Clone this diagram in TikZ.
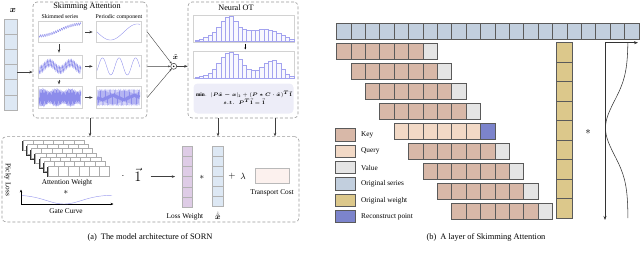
\documentclass[tikz,border=0pt]{standalone}
\usepackage{amsmath,amssymb,bm}
\usepackage{fontspec}
\setmainfont{Liberation Serif}
\usetikzlibrary{arrows.meta,calc}
\definecolor{keyc}{HTML}{D8B8A8}
\definecolor{queryc}{HTML}{F2D9C6}
\definecolor{valc}{HTML}{E5E5E5}
\definecolor{serc}{HTML}{C2CFDE}
\definecolor{wtc}{HTML}{DCC88B}
\definecolor{recc}{HTML}{7C84CC}
\definecolor{xblue}{HTML}{DDE8F4}
\definecolor{lossc}{HTML}{DECCE6}
\definecolor{wave}{HTML}{8C8CEB}
\definecolor{otfill}{HTML}{EDEDF8}
\definecolor{tcost}{HTML}{FCF1EE}
\definecolor{dashc}{HTML}{9A9A9A}
\definecolor{celld}{HTML}{5A5A5A}
\newcommand{\fsT}{\fontsize{8.2}{9}\selectfont}
\newcommand{\fsS}{\fontsize{5.8}{6.5}\selectfont}
\newcommand{\fsL}{\fontsize{7.3}{8}\selectfont}
\newcommand{\fsC}{\fontsize{8.4}{9}\selectfont}
\newcommand{\fsF}{\fontsize{5.3}{6}\selectfont}
\newcommand{\otA}{$\mathbf{min.}\;\,\vert \boldsymbol{P\tilde{x}-x}\vert_{\mathbf{2}}+(\boldsymbol{P*C\cdot\tilde{x}})^{\boldsymbol{T}}\vec{\mathbf{1}}$}
\newcommand{\otB}{$\boldsymbol{s.t.}\;\;\boldsymbol{P}^{\boldsymbol{T}}\vec{\mathbf{1}}=\vec{\mathbf{1}}$}
\begin{document}
\begin{tikzpicture}[x=1pt,y=-1pt,
  dashbox/.style={draw=dashc, dashed, dash pattern=on 3pt off 2pt, rounded corners=4pt, line width=0.6pt},
  rcell/.style={draw=celld, line width=0.7pt, minimum width=14.4pt, minimum height=15.6pt, inner sep=0pt, outer sep=0pt},
  legsw/.style={draw=celld, line width=1pt, minimum width=20pt, minimum height=12.5pt, inner sep=0pt},
  lcell/.style={draw=gray!60, line width=0.4pt, inner sep=0pt, outer sep=0pt},
  plotbox/.style={draw=gray!35, line width=0.5pt, inner sep=0pt},
  arr/.style={-{Stealth[length=3.5pt,width=2.6pt]}, line width=0.5pt, draw=black!75},
  txt/.style={inner sep=0pt, font=\fsL},
  wv/.style={draw=wave, line width=0.35pt},
  bar/.style={draw=wave!80, fill=wave!6, line width=0.45pt}]
\useasboundingbox (0,0) rectangle (640,255);

% ---------------- (a) left part ----------------
\node[inner sep=0pt, font=\fontsize{9}{10}\selectfont] (xlab) at (13,10) {$\boldsymbol{x}$};
\foreach \i in {1,...,6}
  \node[lcell, fill=xblue, minimum width=13pt, minimum height=15.17pt, anchor=north west] (xc\i) at (4,{19+15.17*(\i-1)}) {};

% Skimming attention box
\node[dashbox, minimum width=114pt, minimum height=116pt] (SA) at (90,60) {};
\node[inner sep=0pt, font=\fsT] (SAt) at (87,7) {Skimming Attention};
\node[inner sep=0pt, font=\fsS] (sk1) at (60,17) {Skimmed series};
\node[inner sep=0pt, font=\fsS] (sk2) at (119,17) {Periodic component};
\draw[arr] (xc4.east) -- (SA.west |- xc4.east);

\node[plotbox, minimum width=44pt, minimum height=20.6pt] (pl1) at (60,32) {};
\node[plotbox, minimum width=44pt, minimum height=22.7pt] (pl2) at (60,66.4) {};
\node[plotbox, minimum width=44pt, minimum height=21.6pt] (pl3) at (60,97.5) {};
\node[plotbox, minimum width=45pt, minimum height=20.6pt] (pr1) at (118.5,32) {};
\node[plotbox, minimum width=45pt, minimum height=22.7pt] (pr2) at (118.5,66.4) {};
\node[plotbox, minimum width=45pt, minimum height=21.6pt] (pr3) at (118.5,97.5) {};
\foreach \r in {1,2,3} \draw[arr, shorten <=3pt, shorten >=3pt] (pl\r.east) -- (pr\r.west);
\draw[arr, shorten <=1.5pt, shorten >=2pt] ([xshift=-1pt]pl1.south) -- ([xshift=-1pt]pl2.north);
\draw[arr, shorten <=1.5pt, shorten >=2pt] ([xshift=-1pt]pl2.south) -- ([xshift=-1pt]pl3.north);

% waves
\draw[wv] plot[domain=0:1, samples=320, variable=\t] ({39+42*\t},{30+6*cos(180*\t)+1.3*sin(360*22*\t)});
\draw[wv] plot[domain=0:1, samples=80, variable=\t] ({97+43*\t},{32+8*sin(288*\t)});
\draw[wv] plot[domain=0:1, samples=520, variable=\t] ({39+42*\t},{66.4+3.5*sin(360*2*\t+90)+4*sin(360*28*\t)});
\draw[wv] plot[domain=0:1, samples=120, variable=\t] ({97+43*\t},{66.4-8.5*sin(936*\t-30)});
\draw[wv] plot[domain=0:1, samples=700, variable=\t] ({39+42*\t},{97.5+(7+1.5*sin(360*3*\t))*sin(360*45*\t)});
\draw[wv] plot[domain=0:1, samples=560, variable=\t] ({97+43*\t},{97.5+7.5*sin(360*34*\t)});

% combination
\node[circle, draw=black!80, line width=0.5pt, minimum size=6pt, inner sep=0pt] (odot) at (173.7,66.3) {};
\fill (odot.center) circle (0.8pt);
\node[inner sep=0pt, font=\fontsize{7}{8}\selectfont] (xt) at (175.5,57.5) {$\tilde{\boldsymbol{x}}$};
\foreach \r in {1,2,3} \draw[-{Stealth[length=2.5pt,width=2pt]}, line width=0.4pt, black!75] (pr\r -| SA.east) -- (odot);

% Neural OT box
\node[dashbox, minimum width=110pt, minimum height=116pt] (NOT) at (243,60) {};
\draw[arr] (odot.east) -- (NOT.west |- odot.east);
\node[inner sep=0pt, font=\fsT] (NOTt) at (236,8) {Neural OT};
\node[plotbox, minimum width=101pt, minimum height=26.7pt, anchor=north west] (hb1) at (193,15) {};
\node[plotbox, minimum width=101pt, minimum height=27.3pt, anchor=north west] (hb2) at (193,51) {};
\foreach \h [count=\i from 0] in {1,2,4,6,9,14,20,24,25,20,14,12,11,11,11,12,12,11,10,8,6,4,2}
  \draw[bar] ({195+4.3*\i},41.7) rectangle ++(4.3,-\h);
\foreach \h [count=\i from 0] in {1,2,3,5,9,15,21,25,26,24,19,13,9,8,8,11,15,17,18,15,9,4,2}
  \draw[bar] ({195+4.3*\i},78.3) rectangle ++(4.3,-\h);
\draw[-{Stealth[length=2pt,width=1.8pt]}, line width=0.4pt] ([xshift=1.5pt,yshift=-1.5pt]hb1.south) -- ([xshift=1.5pt,yshift=1.5pt]hb2.north);
\node[fill=otfill, rounded corners=4pt, minimum width=100pt, minimum height=30pt, inner sep=0pt, anchor=north west] (otbox) at (193.3,83.3) {};
\node[inner sep=0pt, font=\fsF] (otl1) at (244,94.3) {\otA};
\node[inner sep=0pt, font=\fsF] (otl2) at (244,101.5) {\otB};

% bottom box
\node[dashbox, minimum width=297pt, minimum height=85.3pt] (BOT) at (150.5,179.3) {};
\draw[arr] (SA.south) -- (SA.south |- BOT.north);
\draw[arr] ([xshift=-25pt]NOT.south) -- ([xshift=-25pt]NOT.south |- BOT.north);
\draw[arr] ([xshift=32pt]NOT.south) -- ([xshift=32pt]NOT.south |- BOT.north);

\node[inner sep=0pt, font=\fsL, rotate=-90] (picky) at (7.5,180) {Picky Loss};

% attention weight stack
\foreach \l in {0,...,6}{
  \pgfmathsetmacro\ax{23+4.2*\l}
  \pgfmathsetmacro\ay{140+4.33*\l}
  \fill[black!80] ({\ax-1.3},{\ay+1.3}) rectangle ({\ax+61-1.3},{\ay+10+1.3});
  \filldraw[fill=white, draw=gray!65, line width=0.4pt] (\ax,\ay) rectangle ({\ax+61},{\ay+10});
  \foreach \c in {1,...,5} \draw[gray!65, line width=0.4pt] ({\ax+61*\c/6},\ay) -- ({\ax+61*\c/6},{\ay+10});
}
\node[txt] (awl) at (67,182.5) {Attention Weight};
\node[inner sep=0pt, font=\fontsize{9}{9}\selectfont] (st1) at (66,192) {$*$};
\coordinate (go) at (21,204);
\coordinate (gx) at (113.5,204);
\coordinate (gy) at (21,189.5);
\draw[-{Stealth[length=3pt,width=2.4pt]}, line width=0.5pt] (go) -- (gx);
\draw[-{Stealth[length=3pt,width=2.4pt]}, line width=0.5pt] (go) -- (gy);
\draw[draw=wave!85, line width=0.45pt] plot[domain=22:112, samples=90, variable=\s] (\s,{204-9*(1-exp(0-((\s-64)/25)*((\s-64)/25)))});
\node[txt] (gcl) at (66,211.5) {Gate Curve};

\node[inner sep=0pt, font=\fontsize{10}{10}\selectfont] (dot1) at (123,176.5) {$\cdot$};
\node[inner sep=0pt, font=\fontsize{14}{14}\selectfont] (one) at (138,175) {$\vec{1}$};

\foreach \i in {1,...,6}
  \node[lcell, fill=lossc, minimum width=10pt, minimum height=10.2pt, anchor=north west] (lw\i) at (181.7,{146+10.2*(\i-1)}) {};
\coordinate (lwm) at (lw3.south west);
\draw[arr] ([xshift=9pt]one.east |- lwm) -- ([xshift=-6.5pt]lwm);
\node[txt] (lwl) at (185,216.7) {Loss Weight};
\node[inner sep=0pt, font=\fontsize{9}{9}\selectfont] (st2) at (202,177.5) {$*$};

\foreach \i in {1,...,6}
  \node[lcell, fill=xblue, minimum width=11pt, minimum height=10.1pt, anchor=north west] (xd\i) at (212.3,{146+10.1*(\i-1)}) {};
\node[inner sep=0pt, font=\fontsize{8}{8}\selectfont] (xdl) at (218,215.5) {$\dot{\tilde{\boldsymbol{x}}}$};
\node[inner sep=0pt, font=\fontsize{9}{9}\selectfont] (plus) at (232,176.5) {$+$};
\node[inner sep=0pt, font=\fontsize{9}{9}\selectfont] (lam) at (243,176.5) {$\lambda$};
\node[draw=gray!55, fill=tcost, line width=0.5pt, minimum width=34pt, minimum height=15pt, inner sep=0pt, anchor=north west] (tc) at (255,168.3) {};
\node[txt] (tcl) at (272,193) {Transport Cost};

\node[inner sep=0pt, font=\fsC] (capa) at (150,237.5) {(a)\hspace{4pt}The model architecture of SORN};

% ---------------- (b) right part ----------------
\foreach \i in {0,...,20}
  \node[rcell, fill=serc, anchor=north west] (s\i) at ({336.5+14.4*\i},23.3) {};
\foreach \k in {1,...,9}{
  \pgfmathsetmacro\sx{336.5+14.4*(\k-1)}
  \pgfmathsetmacro\sy{23.3+20*\k}
  \ifnum\k=5 \def\fc{queryc}\def\lc{recc}\else\def\fc{keyc}\def\lc{valc}\fi
  \foreach \j in {0,...,5}
    \node[rcell, fill=\fc, anchor=north west] (r\k-\j) at ({\sx+14.4*\j},\sy) {};
  \node[rcell, fill=\lc, anchor=north west] (r\k-6) at ({\sx+14.4*6},\sy) {};
}
\foreach \i in {0,...,8}
  \node[rcell, fill=wtc, minimum width=16.7pt, minimum height=19.5pt, anchor=north west] (w\i) at (556,{42.7+19.5*\i}) {};
\node[inner sep=0pt, font=\fontsize{11}{11}\selectfont] (st3) at (588,132) {$*$};

\coordinate (ao) at (605,42.7);
\coordinate (ar) at (638,42.7);
\coordinate (ab) at (605,220);
\draw[-{Stealth[length=4pt,width=3pt]}, line width=0.6pt, black!80] (ao) -- (ar);
\draw[-{Stealth[length=4pt,width=3pt]}, line width=0.6pt, black!80] (ao) -- (ab);
\draw[line width=0.55pt, black!80] plot[domain=43:218, samples=80, variable=\t]
  ({605.5+22.5*(1-exp(0-((\t-128)/38)*((\t-128)/38)))},\t);

\foreach \c/\t [count=\i from 0] in {keyc/Key, queryc/Query, valc/Value, serc/Original series, wtc/Original weight, recc/Reconstruct point}{
  \node[legsw, fill=\c, anchor=north west] (lg\i) at (335,{128.3+16.3*\i}) {};
  \node[txt, anchor=west] (lt\i) at ([xshift=5pt]lg\i.east) {\t};
}

\node[inner sep=0pt, font=\fsC] (capb) at (486,237.5) {(b)\hspace{4pt}A layer of Skimming Attention};
\end{tikzpicture}
\end{document}
